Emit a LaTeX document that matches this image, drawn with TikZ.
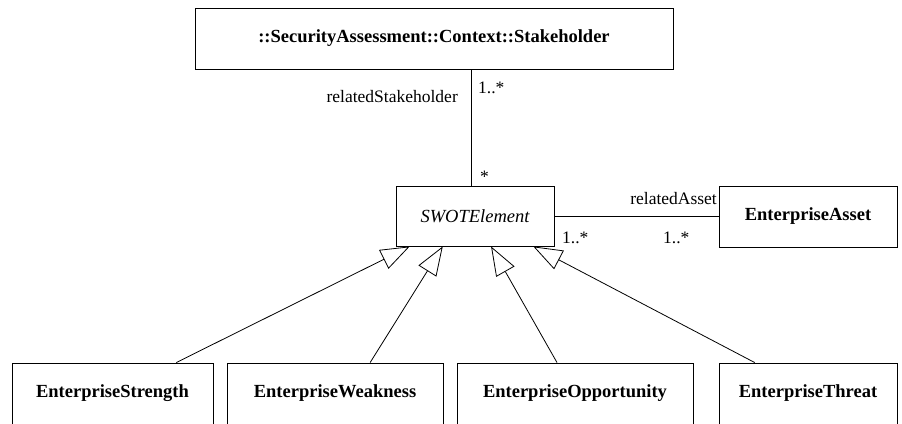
\documentclass[tikz,border=0pt]{standalone}
\usepackage{fontspec}
\setmainfont{Liberation Serif}
\usetikzlibrary{arrows.meta,calc}

\tikzset{
  umlclass/.style={draw=black, line width=0.9pt, rectangle, inner sep=0pt,
    font=\fontsize{18.5}{20}\selectfont\bfseries},
  abstractclass/.style={umlclass, font=\fontsize{18.5}{20}\selectfont\itshape},
  assoc/.style={draw=black, line width=0.8pt},
  gen/.style={draw=black, line width=0.8pt,
    -{Triangle[open, length=29pt, width=21pt, line width=0.8pt]}},
  rolelabel/.style={inner sep=0pt, font=\fontsize{17.5}{19}\selectfont}
}

\begin{document}
\begin{tikzpicture}[x=1pt, y=-1pt]
  \useasboundingbox (0,0) rectangle (902,423);

  % classes
  \node[umlclass, minimum width=478pt, minimum height=61pt] (stakeholder) at (434,38.5)
    {::SecurityAssessment::Context::Stakeholder};
  \node[abstractclass, minimum width=158pt, minimum height=60pt] (swot) at (475,216)
    {SWOTElement};
  \node[umlclass, minimum width=178pt, minimum height=61pt] (asset) at (808,216.5)
    {EnterpriseAsset};

  \node[umlclass, minimum width=201pt, minimum height=61pt] (strength) at (112.5,393.5)
    {EnterpriseStrength};
  \node[umlclass, minimum width=216pt, minimum height=61pt] (weakness) at (335,393.5)
    {EnterpriseWeakness};
  \node[umlclass, minimum width=236pt, minimum height=61pt] (opportunity) at (575,393.5)
    {EnterpriseOpportunity};
  \node[umlclass, minimum width=178pt, minimum height=61pt] (threat) at (808,393.5)
    {EnterpriseThreat};

  % association Stakeholder -- SWOTElement
  \coordinate (swottop) at ($(swot.north west)!0.475!(swot.north east)$);
  \draw[assoc] (stakeholder.south -| swottop) -- (swottop);
  \node[rolelabel, anchor=base east] (rsh) at (458,102) {relatedStakeholder};
  \node[rolelabel, anchor=base west] (mtop) at (478,93) {1..*};
  \node[rolelabel, anchor=base west] (mswot) at (480,182) {*};

  % association SWOTElement -- EnterpriseAsset
  \draw[assoc] (swot.east) -- (asset.west |- swot.east);
  \node[rolelabel, anchor=base east] (ra) at (717,204) {relatedAsset};
  \node[rolelabel, anchor=base west] (ml) at (562,243) {1..*};
  \node[rolelabel, anchor=base west] (mr) at (663,243) {1..*};

  % generalizations
  \draw[gen] ($(strength.north west)!0.816!(strength.north east)$)
    -- ($(swot.south west)!0.089!(swot.south east)$);
  \draw[gen] ($(weakness.north west)!0.662!(weakness.north east)$)
    -- ($(swot.south west)!0.297!(swot.south east)$);
  \draw[gen] ($(opportunity.north west)!0.424!(opportunity.north east)$)
    -- ($(swot.south west)!0.601!(swot.south east)$);
  \draw[gen] ($(threat.north west)!0.202!(threat.north east)$)
    -- ($(swot.south west)!0.867!(swot.south east)$);
\end{tikzpicture}
\end{document}
